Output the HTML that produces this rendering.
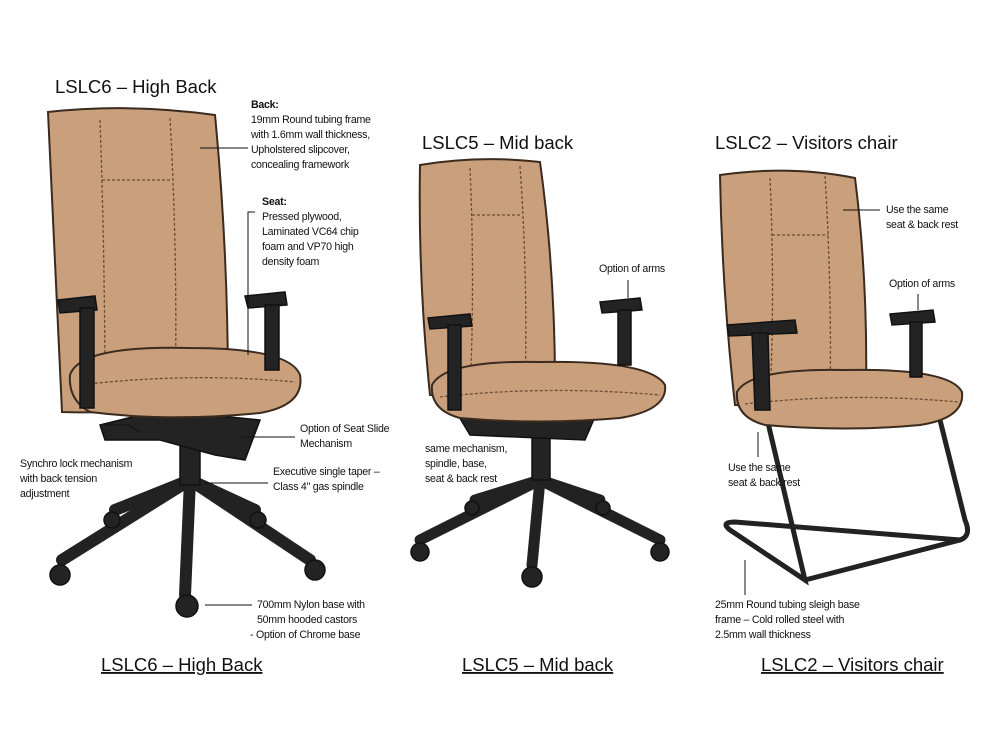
<!DOCTYPE html>
<html><head><meta charset="utf-8"><style>
html,body{margin:0;padding:0;background:#fff;}
svg{display:block;font-family:"Liberation Sans",Arial,sans-serif;}
.s{font-size:10.6px;fill:#111;letter-spacing:-0.25px;}
.t{font-size:18.5px;fill:#111;}
.c{font-size:18.5px;fill:#111;text-decoration:underline;}
.ln{stroke:#111;stroke-width:1;fill:none;}
.tan{fill:#c9a07b;stroke:#3b2a1e;stroke-width:2;}
.seam{stroke:#6b4d36;stroke-width:1.3;fill:none;stroke-dasharray:3 2;}
.blk{fill:#232323;stroke:#111;stroke-width:1.5;}
.bl{stroke:#222;stroke-linecap:round;fill:none;}
</style></head><body>
<svg width="1000" height="747" viewBox="0 0 1000 747">
<rect width="1000" height="747" fill="#fff"/>

<!-- ===== Chair 1 ===== -->
<text x="55" y="93" class="t">LSLC6 – High Back</text>
<g class="bl" stroke-width="12">
<line x1="190" y1="480" x2="62" y2="560"/><line x1="190" y1="480" x2="185" y2="595"/>
<line x1="190" y1="480" x2="310" y2="560"/><line x1="190" y1="480" x2="255" y2="510"/>
<line x1="190" y1="480" x2="115" y2="510"/></g>
<g class="blk"><circle cx="60" cy="575" r="10"/><circle cx="187" cy="606" r="11"/><circle cx="315" cy="570" r="10"/><circle cx="258" cy="520" r="8"/><circle cx="112" cy="520" r="8"/></g>
<rect x="180" y="430" width="20" height="55" class="blk"/>
<rect x="183" y="432" width="10" height="12" fill="#bbb"/>
<path d="M100 425 L160 410 L260 420 L245 460 L215 455 L160 440 L105 440 Z" class="blk"/>
<path d="M48 112 Q130 103 215 115 Q228 250 228 390 Q150 415 62 412 Q55 260 48 112 Z" class="tan"/>
<path d="M100 120 Q105 260 105 405 M170 118 Q178 260 175 400 M102 180 L172 180" class="seam"/>
<path d="M70 375 Q80 345 190 348 Q290 348 300 375 Q305 405 260 413 Q170 422 90 412 Q68 400 70 375 Z" class="tan"/>
<path d="M80 385 Q190 372 295 382" class="seam"/>
<path d="M58 300 L95 296 L97 310 L60 313 Z" class="blk"/>
<rect x="80" y="308" width="14" height="100" class="blk"/>
<path d="M245 296 L285 292 L287 305 L248 308 Z" class="blk"/>
<rect x="265" y="305" width="14" height="65" class="blk"/>

<text class="s" font-weight="bold" x="251" y="108">Back:</text>
<text class="s" x="251" y="123">19mm Round tubing frame</text>
<text class="s" x="251" y="138">with 1.6mm wall thickness,</text>
<text class="s" x="251" y="153">Upholstered slipcover,</text>
<text class="s" x="251" y="168">concealing framework</text>
<path d="M200 148 L248 148" class="ln"/>
<text class="s" font-weight="bold" x="262" y="205">Seat:</text>
<text class="s" x="262" y="220">Pressed plywood,</text>
<text class="s" x="262" y="235">Laminated VC64 chip</text>
<text class="s" x="262" y="250">foam and VP70 high</text>
<text class="s" x="262" y="265">density foam</text>
<path d="M255 212 L248 212 L248 355" class="ln"/>
<text class="s" x="300" y="432">Option of Seat Slide</text>
<text class="s" x="300" y="447">Mechanism</text>
<path d="M242 437 L295 437" class="ln"/>
<text class="s" x="20" y="467">Synchro lock mechanism</text>
<text class="s" x="20" y="482">with back tension</text>
<text class="s" x="20" y="497">adjustment</text>
<path d="M105 425 L128 425 L140 432" class="ln"/>
<text class="s" x="273" y="475">Executive single taper –</text>
<text class="s" x="273" y="490">Class 4" gas spindle</text>
<path d="M205 483 L268 483" class="ln"/>
<text class="s" x="257" y="608">700mm Nylon base with</text>
<text class="s" x="257" y="623">50mm hooded castors</text>
<text class="s" x="250" y="638">- Option of Chrome base</text>
<path d="M205 605 L252 605" class="ln"/>
<text x="101" y="671" class="c">LSLC6 – High Back</text>

<!-- ===== Chair 2 ===== -->
<text x="422" y="149" class="t">LSLC5 – Mid back</text>
<g class="bl" stroke-width="11">
<line x1="540" y1="480" x2="420" y2="540"/><line x1="540" y1="480" x2="532" y2="565"/>
<line x1="540" y1="480" x2="660" y2="540"/><line x1="540" y1="480" x2="600" y2="500"/>
<line x1="540" y1="480" x2="475" y2="500"/></g>
<g class="blk"><circle cx="420" cy="552" r="9"/><circle cx="532" cy="577" r="10"/><circle cx="660" cy="552" r="9"/><circle cx="603" cy="508" r="7"/><circle cx="472" cy="508" r="7"/></g>
<rect x="532" y="425" width="18" height="55" class="blk"/>
<rect x="535" y="427" width="9" height="10" fill="#bbb"/>
<path d="M455 410 L600 405 L585 440 L470 435 Z" class="blk"/>
<path d="M420 165 Q480 155 540 162 Q555 270 555 385 Q490 400 430 395 Q418 280 420 165 Z" class="tan"/>
<path d="M470 168 Q475 280 470 395 M520 166 Q528 280 525 390 M472 215 L522 215" class="seam"/>
<path d="M432 385 Q445 360 540 362 Q650 360 665 385 Q668 410 620 418 Q540 425 460 418 Q430 410 432 385 Z" class="tan"/>
<path d="M440 397 Q545 385 660 395" class="seam"/>
<path d="M428 318 L470 314 L472 326 L430 329 Z" class="blk"/>
<rect x="448" y="325" width="13" height="85" class="blk"/>
<path d="M600 302 L640 298 L642 310 L602 313 Z" class="blk"/>
<rect x="618" y="310" width="13" height="55" class="blk"/>
<text class="s" x="599" y="272">Option of arms</text>
<path d="M628 280 L628 298" class="ln"/>
<text class="s" x="425" y="452">same mechanism,</text>
<text class="s" x="425" y="467">spindle, base,</text>
<text class="s" x="425" y="482">seat &amp; back rest</text>
<text x="462" y="671" class="c">LSLC5 – Mid back</text>

<!-- ===== Chair 3 ===== -->
<text x="715" y="149" class="t">LSLC2 – Visitors chair</text>
<g class="bl" stroke-width="5">
<path d="M765 410 L805 580 L730 530 Q720 522 735 522 L960 540 Q972 536 965 520 L935 400"/>
<path d="M805 580 L960 540"/>
</g>
<path d="M720 175 Q790 165 855 178 Q868 280 866 395 Q800 410 735 405 Q722 290 720 175 Z" class="tan"/>
<path d="M770 178 Q775 290 770 400 M825 176 Q832 290 830 398 M772 235 L828 235" class="seam"/>
<path d="M737 392 Q750 368 845 370 Q950 368 962 392 Q965 418 920 425 Q845 432 765 425 Q735 417 737 392 Z" class="tan"/>
<path d="M745 404 Q850 392 958 402" class="seam"/>
<path d="M727 325 L795 320 L797 333 L729 336 Z" class="blk"/>
<path d="M752 333 L768 333 L770 410 L755 410 Z" class="blk"/>
<path d="M890 314 L933 310 L935 322 L892 325 Z" class="blk"/>
<rect x="910" y="322" width="12" height="55" class="blk"/>
<text class="s" x="886" y="213">Use the same</text>
<text class="s" x="886" y="228">seat &amp; back rest</text>
<path d="M843 210 L880 210" class="ln"/>
<text class="s" x="889" y="287">Option of arms</text>
<path d="M918 294 L918 310" class="ln"/>
<text class="s" x="728" y="471">Use the same</text>
<text class="s" x="728" y="486">seat &amp; back rest</text>
<path d="M758 432 L758 457" class="ln"/>
<text class="s" x="715" y="608">25mm Round tubing sleigh base</text>
<text class="s" x="715" y="623">frame – Cold rolled steel with</text>
<text class="s" x="715" y="638">2.5mm wall thickness</text>
<path d="M745 560 L745 595" class="ln"/>
<text x="761" y="671" class="c">LSLC2 – Visitors chair</text>
</svg>
</body></html>
